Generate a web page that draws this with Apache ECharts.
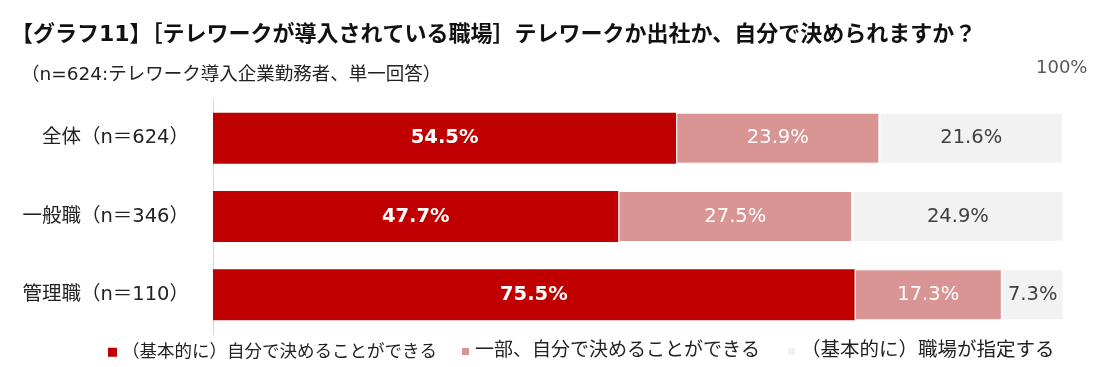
<!DOCTYPE html>
<html><head><meta charset="utf-8">
<script src="https://cdn.jsdelivr.net/npm/echarts@6/dist/echarts.min.js"></script>
<style>html,body{margin:0;padding:0;background:#fff}#c{width:1111px;height:367px}</style>
</head><body><div id="c"></div>
<script>
const categories = ['全体（n＝624）', '一般職（n＝346）', '管理職（n＝110）'];
const seriesNames = ['（基本的に）自分で決めることができる', '一部、自分で決めることができる', '（基本的に）職場が指定する'];
const selfDecide = [54.5, 47.7, 75.5];
const partlyDecide = [23.9, 27.5, 17.3];
const workplaceDecides = [21.6, 24.9, 7.3];
const colors = ['#C00000', '#D99594', '#F2F2F2'];
const labelColors = ['#FFFFFF', '#FFFFFF', '#404040'];
const F = '"DejaVu Sans", "Noto Sans CJK JP", sans-serif';

const chart = echarts.init(document.getElementById('c'));
const dataSets = [selfDecide, partlyDecide, workplaceDecides];
const legendLefts = [103, 455, 781];
const legendSizes = [17.5, 19, 19.5];
chart.setOption({
  animation: false,
  textStyle: { fontFamily: F },
  title: [
    { text: '【グラフ11】［テレワークが導入されている職場］テレワークか出社か、自分で決められますか？', left: 6, top: 19,
      textStyle: { fontSize: 22, fontWeight: 'bold', color: '#111', fontFamily: F } },
    { text: '（n=624:テレワーク導入企業勤務者、単一回答）', left: 16, top: 61,
      textStyle: { fontSize: 18.5, fontWeight: 'normal', color: '#222', fontFamily: F } },
    { text: '100%', left: 1031, top: 54,
      textStyle: { fontSize: 18, fontWeight: 'normal', color: '#595959', fontFamily: F } }
  ],
  legend: seriesNames.map((n, i) => ({
    left: legendLefts[i], bottom: 1, itemWidth: 9, itemHeight: 9, icon: 'rect',
    textStyle: { fontSize: legendSizes[i], color: '#222', fontFamily: F },
    data: [n]
  })),
  grid: { left: 213, right: 48, top: 99, height: 235, containLabel: false },
  xAxis: { type: 'value', min: 0, max: 100, show: false },
  yAxis: {
    type: 'category', data: categories, inverse: true,
    axisLine: { show: true, lineStyle: { color: '#D9D9D9' } },
    axisTick: { show: false },
    axisLabel: { fontSize: 19.5, color: '#222', margin: 24, fontFamily: F }
  },
  series: dataSets.map((d, i) => ({
    name: seriesNames[i], type: 'bar', stack: 'total', data: d,
    barWidth: 51,
    itemStyle: { color: colors[i], borderColor: '#fff', borderWidth: i === 0 ? 0 : 1 },
    label: {
      show: true, position: 'inside', formatter: p => p.value.toFixed(1) + '%',
      fontSize: 19.5, color: labelColors[i], fontWeight: i === 0 ? 'bold' : 'normal', fontFamily: F
    }
  }))
});
</script></body></html>
